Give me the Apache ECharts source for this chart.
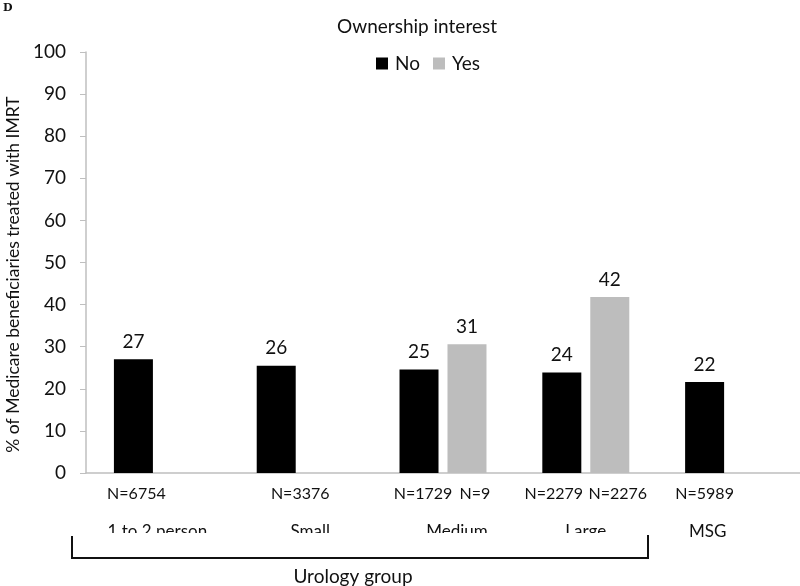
<!DOCTYPE html>
<html>
<head>
<meta charset="utf-8">
<script src="https://cdn.jsdelivr.net/npm/echarts@6/dist/echarts.min.js"></script>
<style>
  html, body { margin: 0; padding: 0; background: #fff; }
  #chart { width: 800px; height: 586px; }
</style>
</head>
<body>
<div id="chart"></div>
<script>
const categories = ["1 to 2 person", "Small", "Medium", "Large", "MSG"];
const noValues = [27.0, 25.5, 24.6, 23.9, 21.6];
const yesValues = [null, null, 30.6, 41.8, null];
const noCounts = ["N=6754", "N=3376", "N=1729", "N=2279", "N=5989"];
const yesCounts = [null, null, "N=9", "N=2276", null];
const yTicks = [0, 100, 10];

const font = "Lato, 'Open Sans', sans-serif";

// the N= texts in the original were placed by hand, not exactly under the bars
const noCountShift = [3, 24, 4, -8, 0];
const yesCountShift = [0, 0, 8, 8, 0];
// same for the category names (padding moves the centred text sideways)
const catPad = {
  c0: [0, 0, 0, 0],
  c1: [0, 0, 0, 20],
  c2: [0, 0, 0, 28],
  c3: [0, 0, 0, 0],
  c4: [0, 42, 0, 0],
};

// zero-height bars stacked under each series, only there to carry the N= labels
const countSeries = (counts, shift, stack) => ({
  type: "bar",
  stack,
  barWidth: 39,
  barGap: "23%",
  silent: true,
  itemStyle: { color: "transparent" },
  label: {
    show: true,
    position: "bottom",
    distance: 13,
    color: "#111",
    fontSize: 16,
    fontFamily: font,
    formatter: (p) => counts[p.dataIndex] || "",
  },
  data: counts.map((c, i) =>
    c ? { value: 0, label: { offset: [shift[i], 0] } } : null
  ),
});

const valueLabel = {
  show: true,
  position: "top",
  distance: 8,
  color: "#111",
  fontSize: 19,
  fontFamily: font,
  formatter: (p) => Math.round(p.value),
};

const catRich = {};
Object.keys(catPad).forEach((k) => {
  catRich[k] = { fontSize: 17, color: "#111", fontFamily: font, padding: catPad[k] };
});

const chart = echarts.init(document.getElementById("chart"));
chart.setOption({
  animation: false,
  textStyle: { fontFamily: font },
  title: {
    text: "Ownership interest",
    left: 412,
    textAlign: "center",
    top: 12,
    textStyle: { fontSize: 19, fontWeight: "normal", color: "#111", fontFamily: font },
  },
  legend: {
    data: ["No", "Yes"],
    left: 371,
    top: 49,
    itemWidth: 12,
    itemHeight: 12,
    itemGap: 13,
    icon: "rect",
    textStyle: { fontSize: 19, color: "#111", fontFamily: font, padding: [0, 0, 0, 2] },
  },
  grid: { left: 86, right: 0, top: 52, bottom: 113, outerBoundsMode: "none" },
  xAxis: {
    type: "category",
    data: categories,
    axisLine: { lineStyle: { color: "#bfbfbf", width: 1.5 } },
    axisTick: { show: false },
    axisLabel: {
      margin: 50,
      formatter: (v, i) => "{c" + i + "|" + v + "}",
      rich: catRich,
    },
  },
  yAxis: {
    type: "value",
    min: yTicks[0],
    max: yTicks[1],
    interval: yTicks[2],
    name: "% of Medicare beneficiaries treated with IMRT",
    nameLocation: "middle",
    nameGap: 62,
    nameTextStyle: { fontSize: 17.5, color: "#111", fontFamily: font, padding: [0, 24, 0, 0] },
    splitLine: { show: false },
    axisLine: { show: true, lineStyle: { color: "#bfbfbf", width: 1.5 } },
    axisTick: { show: true, length: 6, lineStyle: { color: "#bfbfbf" } },
    axisLabel: { margin: 20, fontSize: 19, color: "#111", fontFamily: font },
  },
  series: [
    countSeries(noCounts, noCountShift, "no"),
    {
      name: "No",
      type: "bar",
      stack: "no",
      barWidth: 39,
      barGap: "23%",
      itemStyle: { color: "#000" },
      label: valueLabel,
      data: noValues,
    },
    countSeries(yesCounts, yesCountShift, "yes"),
    {
      name: "Yes",
      type: "bar",
      stack: "yes",
      barWidth: 39,
      barGap: "23%",
      itemStyle: { color: "#bdbdbd" },
      label: valueLabel,
      data: yesValues,
    },
  ],
  graphic: [
    {
      type: "text",
      left: 3,
      top: 3,
      style: { text: "D", font: "bold 11px 'DejaVu Serif', serif", fill: "#111" },
    },
    // white strip that cuts off the lower half of the bracketed category labels
    { type: "rect", z: 100, shape: { x: 95, y: 533, width: 545, height: 14 }, style: { fill: "#fff" } },
    {
      type: "polyline",
      z: 101,
      shape: { points: [[72, 536], [72, 558], [648, 558], [648, 535]] },
      style: { stroke: "#111", lineWidth: 2, fill: null },
    },
    {
      type: "text",
      z: 101,
      x: 353,
      y: 577,
      style: {
        text: "Urology group",
        align: "center",
        verticalAlign: "middle",
        font: "19px " + font,
        fill: "#111",
      },
    },
  ],
});
</script>
</body>
</html>
